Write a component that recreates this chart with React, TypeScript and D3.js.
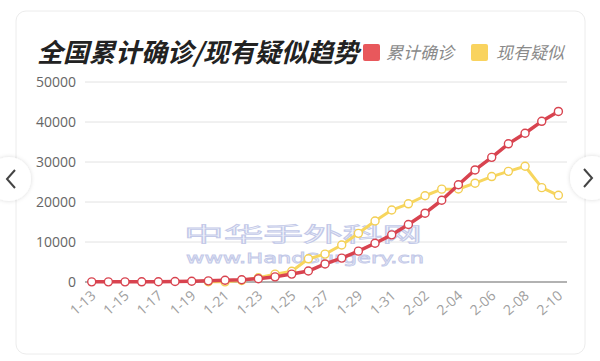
import * as d3 from 'd3'

const dates = [
  '1-13', '1-14', '1-15', '1-16', '1-17', '1-18', '1-19', '1-20', '1-21', '1-22',
  '1-23', '1-24', '1-25', '1-26', '1-27', '1-28', '1-29', '1-30', '1-31', '2-01',
  '2-02', '2-03', '2-04', '2-05', '2-06', '2-07', '2-08', '2-09', '2-10',
]
const confirmed = [
  41, 41, 41, 45, 62, 121, 198, 291, 440, 571,
  830, 1287, 1975, 2744, 4515, 5974, 7711, 9692, 11791, 14380,
  17205, 20438, 24324, 28018, 31161, 34546, 37198, 40171, 42638,
]
// suspected series starts on 1-20
const suspectedDates = [
  '1-20', '1-21', '1-22', '1-23', '1-24', '1-25', '1-26', '1-27', '1-28', '1-29',
  '1-30', '1-31', '2-01', '2-02', '2-03', '2-04', '2-05', '2-06', '2-07', '2-08',
  '2-09', '2-10',
]
const suspected = [
  54, 37, 393, 1072, 1965, 2684, 5794, 6973, 9239, 12167,
  15238, 17988, 19544, 21558, 23214, 23260, 24702, 26359, 27657, 28942,
  23589, 21675,
]
const yTicks = [0, 10000, 20000, 30000, 40000, 50000]
const xLabels = dates.filter((d, i) => i % 2 === 0)

const RED = '#d8434f'
const YELLOW = '#f7d65e'

export default function App() {
  const width = 600
  const height = 361
  const x = d3.scalePoint(dates, [91.7, 558.4])
  const y = d3.scaleLinear([0, 50000], [282, 82])
  const line = d3.line<[string, number]>((d) => x(d[0]) as number, (d) => y(d[1]))
  const redPts: [string, number][] = dates.map((d, i) => [d, confirmed[i]])
  const yelPts: [string, number][] = suspectedDates.map((d, i) => [d, suspected[i]])

  return (
    <svg
      width={width}
      height={height}
      viewBox={`0 0 ${width} ${height}`}
      style={{ position: 'absolute', left: 0, top: 0, background: '#fff' }}
      fontFamily="'Noto Sans CJK SC', 'Noto Sans', sans-serif"
    >
      <defs>
        <filter id="sh" x="-50%" y="-50%" width="200%" height="200%">
          <feDropShadow dx="0" dy="0" stdDeviation="2" floodColor="#000" floodOpacity="0.15" />
        </filter>
      </defs>
      <rect x={16} y={11} width={569} height={343} rx={10} fill="#fff" stroke="#ececec" />

      <text x={37} y={62} fontSize={26} fontWeight="bold" fontStyle="italic" fill="#222">
        全国累计确诊/现有疑似趋势
      </text>
      <rect x={363} y={44} width={17} height={17} rx={2} fill="#e8585c" />
      <text x={386} y={59} fontSize={17} fontStyle="italic" fill="#8a8a8a">累计确诊</text>
      <rect x={471} y={44} width={17} height={17} rx={2} fill="#f9d35f" />
      <text x={496} y={59} fontSize={17} fontStyle="italic" fill="#8a8a8a">现有疑似</text>

      <g>
        {yTicks.map((t) => (
          <g key={t}>
            <line x1={85} x2={567} y1={y(t)} y2={y(t)} stroke={t === 0 ? '#666' : '#e2e2e2'} strokeWidth={t === 0 ? 1.2 : 1} />
            <text x={76} y={y(t)} dy="0.35em" textAnchor="end" fontSize={14} fill="#666" fontFamily="'Open Sans', sans-serif">
              {t}
            </text>
          </g>
        ))}
      </g>

      <g>
        {xLabels.map((d) => (
          <text
            key={d}
            transform={`translate(${(x(d) as number) + 5},${297}) rotate(-42)`}
            textAnchor="end"
            fontSize={14}
            fill="#a0a0a0"
            fontFamily="'Open Sans', sans-serif"
          >
            {d}
          </text>
        ))}
      </g>

      <g fill="#f1f3fb" stroke="#c3c9e8" strokeWidth={0.8}>
        <text x={184} y={242} fontSize={20} textLength={238} lengthAdjust="spacingAndGlyphs">中华手外科网</text>
        <text x={186} y={263} fontSize={14} fontFamily="'DejaVu Sans', sans-serif" textLength={238} lengthAdjust="spacingAndGlyphs">www.HandSurgery.cn</text>
      </g>

      <path d={line(yelPts) || undefined} fill="none" stroke={YELLOW} strokeWidth={3} strokeLinejoin="round" />
      <g fill="#fff" stroke="#f3cf55" strokeWidth={1.4}>
        {yelPts.map((p) => (
          <circle key={p[0]} cx={x(p[0])} cy={y(p[1])} r={4} />
        ))}
      </g>
      <path d={line(redPts) || undefined} fill="none" stroke={RED} strokeWidth={3.5} strokeLinejoin="round" />
      <g fill="#fff" stroke={RED} strokeWidth={1.4}>
        {redPts.map((p) => (
          <circle key={p[0]} cx={x(p[0])} cy={y(p[1])} r={4} />
        ))}
      </g>

      <g filter="url(#sh)">
        <circle cx={9} cy={179} r={22} fill="#fff" />
        <circle cx={592} cy={178} r={22} fill="#fff" />
      </g>
      <path d="M15,170 L7,179 L15,188" fill="none" stroke="#444" strokeWidth={2} />
      <path d="M584,169 L592,178 L584,187" fill="none" stroke="#444" strokeWidth={2} />
    </svg>
  )
}
